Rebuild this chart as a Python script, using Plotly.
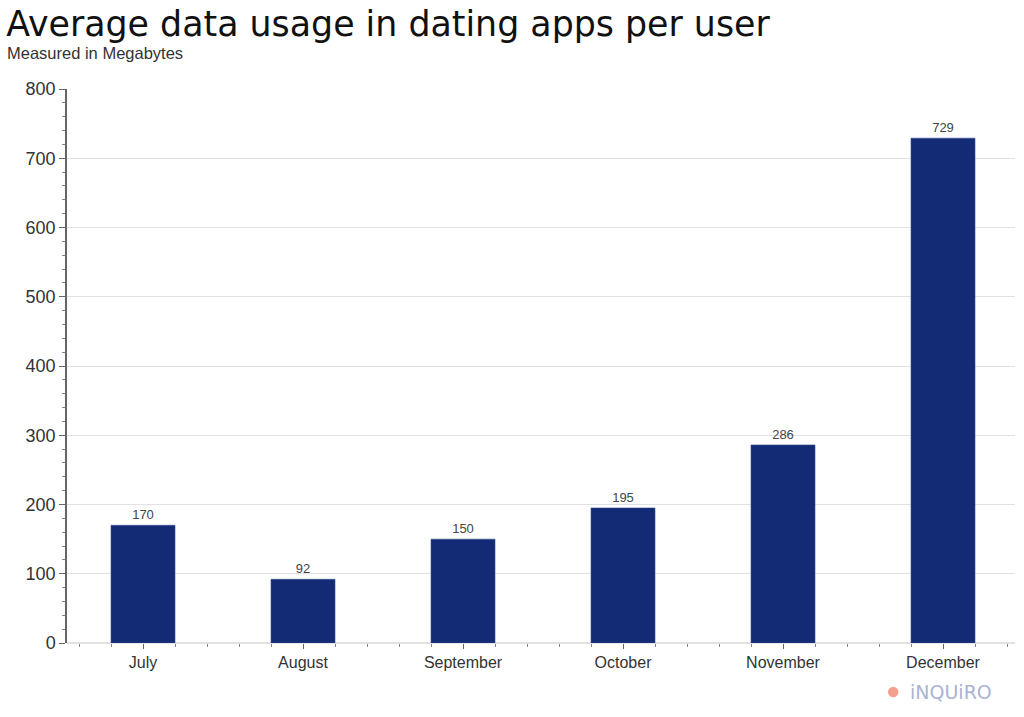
import plotly.graph_objects as go

months = ["July", "August", "September", "October", "November", "December"]
usage_mb = [170, 92, 150, 195, 286, 729]
y_ticks = [0, 100, 200, 300, 400, 500, 600, 700, 800]

positions = list(range(len(months)))

fig = go.Figure()
fig.add_trace(go.Bar(
    x=positions, y=usage_mb, width=0.4,
    marker=dict(color="#132a74", line=dict(color="#3a4f8f", width=0.6)),
    text=[str(v) for v in usage_mb], textposition="outside",
    textfont=dict(family="Liberation Sans, Arial", size=13, color="#444"),
    cliponaxis=False,
))

fig.update_layout(
    width=1024, height=717,
    margin=dict(l=67, r=9, t=89, b=74),
    paper_bgcolor="white", plot_bgcolor="white",
    showlegend=False,
    title=dict(text="Average data usage in dating apps per user",
               x=0.006, xanchor="left", y=0.967, yanchor="middle",
               font=dict(family="DejaVu Sans, Verdana", size=34.8, color="#111")),
    annotations=[
        dict(text="Measured in Megabytes", xref="paper", yref="paper",
             x=-0.065, y=1.065, xanchor="left", yanchor="middle", showarrow=False,
             font=dict(family="Liberation Sans, Arial", size=16.5, color="#333")),
        dict(text="iNQUiRO", xref="paper", yref="paper",
             x=0.978, y=-0.088, xanchor="right", yanchor="middle", showarrow=False,
             font=dict(family="DejaVu Sans", size=19, color="#a9b3d3")),
    ],
    shapes=[
        dict(type="circle", xref="paper", yref="paper",
             x0=0.866, x1=0.877, y0=-0.098, y1=-0.079,
             fillcolor="#f4a08c", line=dict(color="#f4a08c", width=0)),
    ],
    bargap=0.6,
)

fig.update_xaxes(
    range=[-0.475, 5.45], automargin=False,
    tickvals=positions, ticktext=months,
    ticks="outside", ticklen=5, tickcolor="#666",
    minor=dict(dtick=0.2, tick0=0, ticks="outside", ticklen=3, tickcolor="#888", showgrid=False),
    showline=False, showgrid=False, zeroline=False,
    tickfont=dict(family="Liberation Sans, Arial", size=16, color="#333"),
)
fig.update_yaxes(
    range=[0, 800], tickvals=y_ticks, automargin=False,
    showline=True, linecolor="#666", linewidth=1.5,
    ticks="outside", ticklen=6, tickcolor="#666",
    minor=dict(dtick=20, ticks="outside", ticklen=3, tickcolor="#888", showgrid=False),
    showgrid=True, gridcolor="#e2e2e2", gridwidth=1,
    zeroline=True, zerolinecolor="#e2e2e2",
    tickfont=dict(family="Liberation Sans, Arial", size=18, color="#333"),
)

fig.write_html("out.html", config={"displayModeBar": False},
               post_script="document.body.style.margin='0';")
